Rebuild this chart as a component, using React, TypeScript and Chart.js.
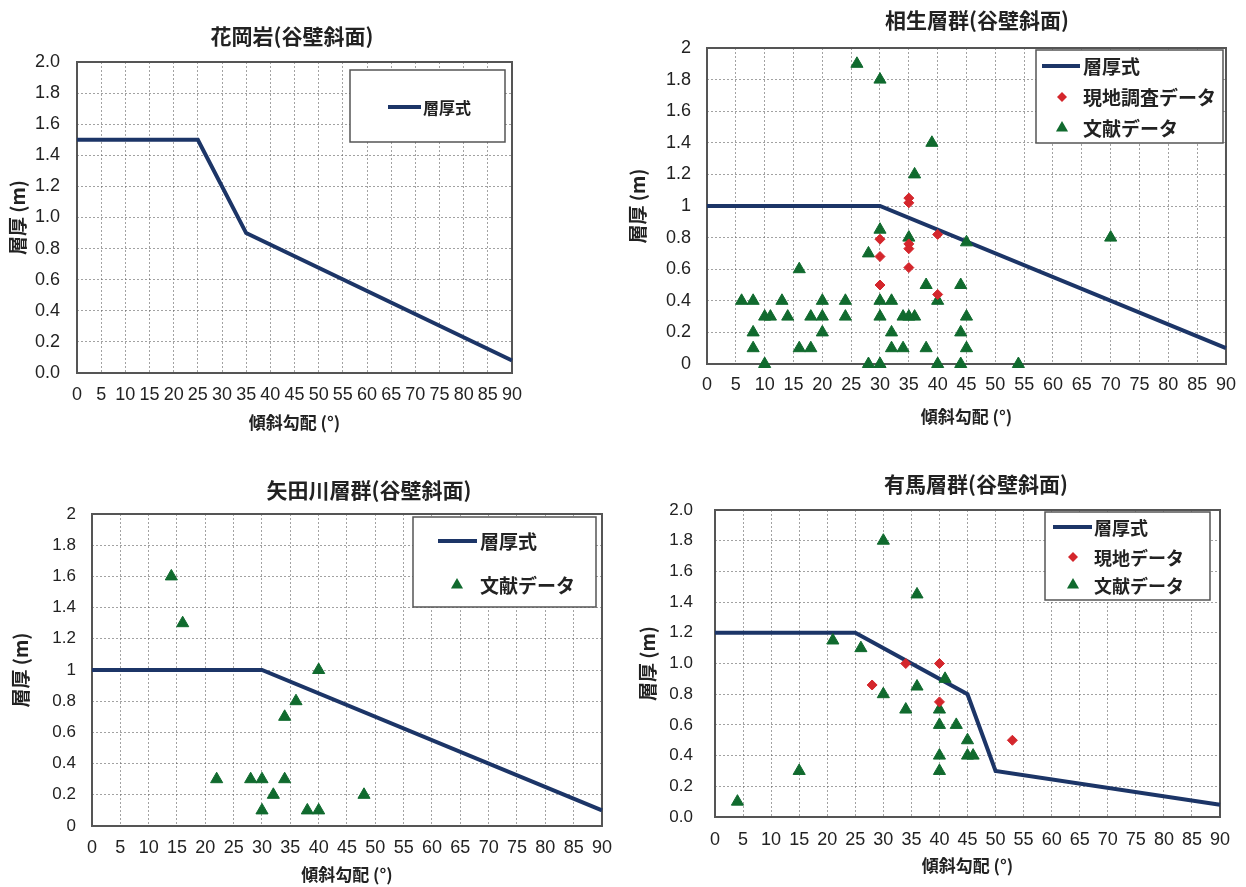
import React, { useEffect, useRef } from 'react';
import { Chart, registerables } from 'chart.js';

Chart.register(...registerables);

// ---------- axis settings ----------
const X_MIN = 0;
const X_MAX = 90;
const X_STEP = 5;
const Y_MIN = 0;
const Y_MAX = 2;
const Y_STEP = 0.2;

// ---------- texts ----------
const X_TITLE = '傾斜勾配 (°)';
const Y_TITLE = '層厚 (m)';
const LBL_LINE = '層厚式';
const LBL_FIELD_A = '現地調査データ';
const LBL_FIELD_B = '現地データ';
const LBL_LIT = '文献データ';

const TITLE_GRANITE = '花岡岩(谷壁斜面)';
const TITLE_AIOI = '相生層群(谷壁斜面)';
const TITLE_YADA = '矢田川層群(谷壁斜面)';
const TITLE_ARIMA = '有馬層群(谷壁斜面)';

// ---------- data: 花岡岩 ----------
const graniteLineX = [0, 25, 35, 90];
const graniteLineY = [1.5, 1.5, 0.9, 0.08];

// ---------- data: 相生層群 ----------
const aioiLineX = [0, 30, 90];
const aioiLineY = [1.0, 1.0, 0.1];
const aioiFieldX = [30, 30, 30, 35, 35, 35, 35, 35, 40, 40];
const aioiFieldY = [0.79, 0.68, 0.5, 1.05, 1.02, 0.76, 0.73, 0.61, 0.82, 0.44];
const aioiLitX = [6, 8, 8, 8, 10, 10, 11, 13, 14, 16, 16, 18, 18, 20, 20, 20, 24, 24, 26, 28, 28, 30, 30, 30, 30, 30, 32, 32, 32, 34, 34, 35, 35, 36, 36, 38, 38, 39, 40, 40, 44, 44, 44, 45, 45, 45, 54, 70];
const aioiLitY = [0.4, 0.4, 0.2, 0.1, 0, 0.3, 0.3, 0.4, 0.3, 0.6, 0.1, 0.3, 0.1, 0.4, 0.3, 0.2, 0.4, 0.3, 1.9, 0.7, 0, 1.8, 0.85, 0.4, 0.3, 0, 0.4, 0.2, 0.1, 0.3, 0.1, 0.8, 0.3, 0.3, 1.2, 0.5, 0.1, 1.4, 0.4, 0, 0.5, 0.2, 0, 0.77, 0.3, 0.1, 0, 0.8];

// ---------- data: 矢田川層群 ----------
const yadaLineX = [0, 30, 90];
const yadaLineY = [1.0, 1.0, 0.1];
const yadaLitX = [14, 16, 40, 36, 34, 22, 28, 30, 34, 32, 30, 38, 40, 48];
const yadaLitY = [1.6, 1.3, 1.0, 0.8, 0.7, 0.3, 0.3, 0.3, 0.3, 0.2, 0.1, 0.1, 0.1, 0.2];

// ---------- data: 有馬層群 ----------
const arimaLineX = [0, 25, 45, 50, 90];
const arimaLineY = [1.2, 1.2, 0.8, 0.3, 0.08];
const arimaFieldX = [28, 34, 40, 40, 53];
const arimaFieldY = [0.86, 1.0, 1.0, 0.75, 0.5];
const arimaLitX = [4, 15, 21, 26, 30, 30, 36, 36, 34, 41, 40, 40, 40, 40, 43, 45, 45, 46];
const arimaLitY = [0.1, 0.3, 1.15, 1.1, 1.8, 0.8, 1.45, 0.85, 0.7, 0.9, 0.7, 0.6, 0.4, 0.3, 0.6, 0.5, 0.4, 0.4];

// ---------- styles ----------
const NAVY = '#1c3567';
const GREEN = '#106a2e';
const RED = '#d4262c';
const GRID = 'rgba(100,100,100,0.6)';
const FRAME = '#555';
const TEXT = '#222';
const NARROW = "'Liberation Sans Narrow', 'Liberation Sans', Arial, sans-serif";
const REG = "'Liberation Sans', Arial, sans-serif";
const CJK = "'Noto Sans CJK JP', 'Noto Sans', sans-serif";
const TRI_R = 7;
const DIA_R = 5;

type Item = { kind: 'line' | 'diamond' | 'triangle'; label: string; y: number };
type Panel = {
  left: number; top: number; w: number; h: number;
  padTop: number; padRight: number;
  yW: number; yTickPad: number; yFont: string; yFontSize: number; yFixed: boolean; yTitlePad: number;
  xH: number; xTickPad: number; xTitlePad: number;
  title: string; titleX: number; titleY: number; titleSize: number;
  box: [number, number, number, number];
  lineX0: number; lineX1: number; markerX: number; textX: number; legendSize: number;
  items: Item[];
  lineX: number[]; lineY: number[];
  fieldX?: number[]; fieldY?: number[];
  litX?: number[]; litY?: number[];
};

const pts = (xs: number[], ys: number[]) => xs.map((x, i) => ({ x, y: ys[i] }));

const PANELS: Panel[] = [
  {
    left: 0, top: 0, w: 623, h: 443,
    padTop: 62, padRight: 111,
    yW: 77, yTickPad: 17, yFont: NARROW, yFontSize: 18, yFixed: true, yTitlePad: 6,
    xH: 70, xTickPad: 11, xTitlePad: 10,
    title: TITLE_GRANITE, titleX: 292, titleY: 36, titleSize: 21,
    box: [350, 70, 505, 142],
    lineX0: 388, lineX1: 421, markerX: 0, textX: 423, legendSize: 16,
    items: [{ kind: 'line', label: LBL_LINE, y: 107 }],
    lineX: graniteLineX, lineY: graniteLineY,
  },
  {
    left: 623, top: 0, w: 623, h: 443,
    padTop: 48, padRight: 20,
    yW: 84, yTickPad: 16, yFont: REG, yFontSize: 18, yFixed: false, yTitlePad: 3,
    xH: 79, xTickPad: 10, xTitlePad: 16,
    title: TITLE_AIOI, titleX: 354, titleY: 20, titleSize: 21,
    box: [413, 50, 600, 143],
    lineX0: 419, lineX1: 457, markerX: 439, textX: 460, legendSize: 19,
    items: [
      { kind: 'line', label: LBL_LINE, y: 66 },
      { kind: 'diamond', label: LBL_FIELD_A, y: 97 },
      { kind: 'triangle', label: LBL_LIT, y: 128 },
    ],
    lineX: aioiLineX, lineY: aioiLineY,
    fieldX: aioiFieldX, fieldY: aioiFieldY,
    litX: aioiLitX, litY: aioiLitY,
  },
  {
    left: 0, top: 443, w: 623, h: 444,
    padTop: 71, padRight: 19,
    yW: 92, yTickPad: 16, yFont: REG, yFontSize: 17, yFixed: false, yTitlePad: 9,
    xH: 61, xTickPad: 11, xTitlePad: 2,
    title: TITLE_YADA, titleX: 369, titleY: 47, titleSize: 21,
    box: [413, 74, 596, 164],
    lineX0: 438, lineX1: 477, markerX: 457, textX: 480, legendSize: 19,
    items: [
      { kind: 'line', label: LBL_LINE, y: 98 },
      { kind: 'triangle', label: LBL_LIT, y: 142 },
    ],
    lineX: yadaLineX, lineY: yadaLineY,
    litX: yadaLitX, litY: yadaLitY,
  },
  {
    left: 623, top: 443, w: 623, h: 444,
    padTop: 67, padRight: 26,
    yW: 92, yTickPad: 22, yFont: REG, yFontSize: 17, yFixed: true, yTitlePad: 13,
    xH: 70, xTickPad: 12, xTitlePad: 11,
    title: TITLE_ARIMA, titleX: 353, titleY: 41, titleSize: 21,
    box: [422, 69, 587, 157],
    lineX0: 430, lineX1: 469, markerX: 450, textX: 471, legendSize: 18,
    items: [
      { kind: 'line', label: LBL_LINE, y: 84 },
      { kind: 'diamond', label: LBL_FIELD_B, y: 114 },
      { kind: 'triangle', label: LBL_LIT, y: 142 },
    ],
    lineX: arimaLineX, lineY: arimaLineY,
    fieldX: arimaFieldX, fieldY: arimaFieldY,
    litX: arimaLitX, litY: arimaLitY,
  },
];

function decor(p: Panel) {
  return {
    id: 'decor',
    beforeDatasetsDraw(chart: any) {
      const a = chart.chartArea;
      const ctx = chart.ctx;
      ctx.save();
      ctx.strokeStyle = FRAME;
      ctx.lineWidth = 2;
      ctx.strokeRect(a.left, a.top, a.right - a.left, a.bottom - a.top);
      ctx.restore();
    },
    afterDraw(chart: any) {
      const ctx = chart.ctx;
      ctx.save();
      // title
      ctx.font = `bold ${p.titleSize}px ${CJK}`;
      ctx.fillStyle = TEXT;
      ctx.textAlign = 'center';
      ctx.textBaseline = 'middle';
      ctx.fillText(p.title, p.titleX, p.titleY);
      // legend box
      const [x0, y0, x1, y1] = p.box;
      ctx.fillStyle = '#fff';
      ctx.fillRect(x0, y0, x1 - x0, y1 - y0);
      ctx.strokeStyle = FRAME;
      ctx.lineWidth = 1.5;
      ctx.strokeRect(x0, y0, x1 - x0, y1 - y0);
      ctx.font = `bold ${p.legendSize}px ${CJK}`;
      ctx.textAlign = 'left';
      for (const it of p.items) {
        if (it.kind === 'line') {
          ctx.strokeStyle = NAVY;
          ctx.lineWidth = 4;
          ctx.beginPath();
          ctx.moveTo(p.lineX0, it.y);
          ctx.lineTo(p.lineX1, it.y);
          ctx.stroke();
        } else if (it.kind === 'diamond') {
          const r = DIA_R;
          const cx = p.markerX;
          ctx.fillStyle = RED;
          ctx.beginPath();
          ctx.moveTo(cx, it.y - r);
          ctx.lineTo(cx + r, it.y);
          ctx.lineTo(cx, it.y + r);
          ctx.lineTo(cx - r, it.y);
          ctx.closePath();
          ctx.fill();
        } else {
          const r = TRI_R;
          const cx = p.markerX;
          ctx.fillStyle = GREEN;
          ctx.beginPath();
          ctx.moveTo(cx, it.y - r);
          ctx.lineTo(cx + r * 0.866, it.y + r * 0.5);
          ctx.lineTo(cx - r * 0.866, it.y + r * 0.5);
          ctx.closePath();
          ctx.fill();
        }
        ctx.fillStyle = TEXT;
        ctx.fillText(it.label, p.textX, it.y + 1);
      }
      ctx.restore();
    },
  };
}

function buildConfig(p: Panel): any {
  const datasets: any[] = [];
  if (p.fieldX && p.fieldY) {
    datasets.push({
      label: LBL_FIELD_A,
      data: pts(p.fieldX, p.fieldY),
      pointStyle: 'rectRot',
      pointRadius: DIA_R,
      pointBackgroundColor: RED,
      pointBorderColor: RED,
      pointBorderWidth: 1,
      showLine: false,
      clip: false,
      order: 1,
    });
  }
  if (p.litX && p.litY) {
    datasets.push({
      label: LBL_LIT,
      data: pts(p.litX, p.litY),
      pointStyle: 'triangle',
      pointRadius: TRI_R,
      pointBackgroundColor: GREEN,
      pointBorderColor: GREEN,
      pointBorderWidth: 1,
      showLine: false,
      clip: false,
      order: 2,
    });
  }
  datasets.push({
    label: LBL_LINE,
    data: pts(p.lineX, p.lineY),
    showLine: true,
    borderColor: NAVY,
    borderWidth: 4,
    pointRadius: 0,
    fill: false,
    tension: 0,
    clip: false,
    order: 3,
  });

  return {
    type: 'scatter',
    data: { datasets },
    options: {
      responsive: true,
      maintainAspectRatio: false,
      animation: false,
      layout: { padding: { left: 0, top: p.padTop, right: p.padRight, bottom: 0 } },
      plugins: {
        legend: { display: false },
        title: { display: false },
        tooltip: { enabled: false },
      },
      scales: {
        x: {
          type: 'linear',
          min: X_MIN,
          max: X_MAX,
          afterFit: (s: any) => { s.height = p.xH; },
          ticks: {
            stepSize: X_STEP,
            autoSkip: false,
            maxRotation: 0,
            minRotation: 0,
            padding: p.xTickPad,
            color: TEXT,
            font: { family: NARROW, size: 18 },
          },
          grid: { color: GRID, lineWidth: 1, drawTicks: false },
          border: { display: false, dash: [2, 2] },
          title: {
            display: true,
            text: X_TITLE,
            color: TEXT,
            font: { family: CJK, size: 17, weight: 'bold' },
            padding: { top: 0, bottom: p.xTitlePad },
          },
        },
        y: {
          type: 'linear',
          min: Y_MIN,
          max: Y_MAX,
          afterFit: (s: any) => { s.width = p.yW; },
          ticks: {
            stepSize: Y_STEP,
            padding: p.yTickPad,
            color: TEXT,
            font: { family: p.yFont, size: p.yFontSize },
            callback: (v: any) => (p.yFixed ? (+v).toFixed(1) : String(Math.round(+v * 10) / 10)),
          },
          grid: { color: GRID, lineWidth: 1, drawTicks: false },
          border: { display: false, dash: [2, 2] },
          title: {
            display: true,
            text: Y_TITLE,
            color: TEXT,
            font: { family: CJK, size: 19, weight: 'bold' },
            padding: { top: p.yTitlePad, bottom: 0 },
          },
        },
      },
    },
    plugins: [decor(p)],
  };
}

function PanelChart({ p }: { p: Panel }) {
  const ref = useRef<HTMLCanvasElement | null>(null);
  useEffect(() => {
    if (!ref.current) return;
    const chart = new Chart(ref.current, buildConfig(p));
    return () => chart.destroy();
  }, [p]);
  return (
    <div style={{ position: 'absolute', left: p.left, top: p.top, width: p.w, height: p.h }}>
      <canvas ref={ref} />
    </div>
  );
}

export default function App() {
  return (
    <div style={{ position: 'fixed', left: 0, top: 0, width: 1246, height: 887, background: '#fff', overflow: 'hidden' }}>
      {PANELS.map((p, i) => (
        <PanelChart key={i} p={p} />
      ))}
    </div>
  );
}
